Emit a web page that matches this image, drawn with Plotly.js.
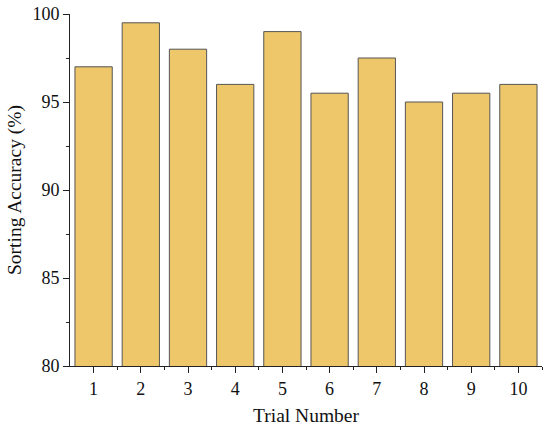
<!DOCTYPE html>
<html><head><meta charset="utf-8">
<script src="https://cdn.plot.ly/plotly-3.0.1.min.js"></script>
<style>body{margin:0;background:#fff}#c{width:550px;height:427px}</style>
</head><body><div id="c"></div>
<script>
const trials = [1,2,3,4,5,6,7,8,9,10];
const accuracy = [97, 99.5, 98, 96, 99, 95.5, 97.5, 95, 95.5, 96];
const xMinorTicks = [1.5,2.5,3.5,4.5,5.5,6.5,7.5,8.5,9.5,10.5];
const font = "Liberation Serif, Times New Roman, serif";
Plotly.newPlot('c', [{
  type: 'bar', x: trials, y: accuracy, width: 0.79,
  marker: {color: '#EDC76A', line: {color: '#555', width: 1}},
  hoverinfo: 'none'
}], {
  width: 550, height: 427,
  margin: {l: 70, r: 8, t: 14, b: 61},
  paper_bgcolor: '#fff', plot_bgcolor: '#fff',
  font: {family: font, size: 18, color: '#111'},
  showlegend: false,
  xaxis: {
    range: [0.5, 10.5], tickmode: 'array', tickvals: trials, ticktext: trials.map(String),
    showgrid: false, zeroline: false, showline: true, linecolor: '#222', linewidth: 1,
    ticks: 'outside', ticklen: 6, tickcolor: '#222', tickfont: {size: 18},
    minor: {tickmode: 'array', tickvals: xMinorTicks, ticks: 'outside', ticklen: 3, tickcolor: '#222', showgrid: false},
    title: {text: 'Trial Number', font: {size: 19.5}, standoff: 10}
  },
  yaxis: {
    range: [80, 100], dtick: 5, tick0: 80,
    showgrid: false, zeroline: false, showline: true, linecolor: '#222', linewidth: 1,
    ticks: 'outside', ticklen: 6, tickcolor: '#222', tickfont: {size: 18},
    minor: {dtick: 2.5, ticks: 'outside', ticklen: 3, tickcolor: '#222', showgrid: false},
    title: {text: 'Sorting Accuracy (%)', font: {size: 19.5}, standoff: 5}
  }
}, {staticPlot: true});
</script></body></html>
